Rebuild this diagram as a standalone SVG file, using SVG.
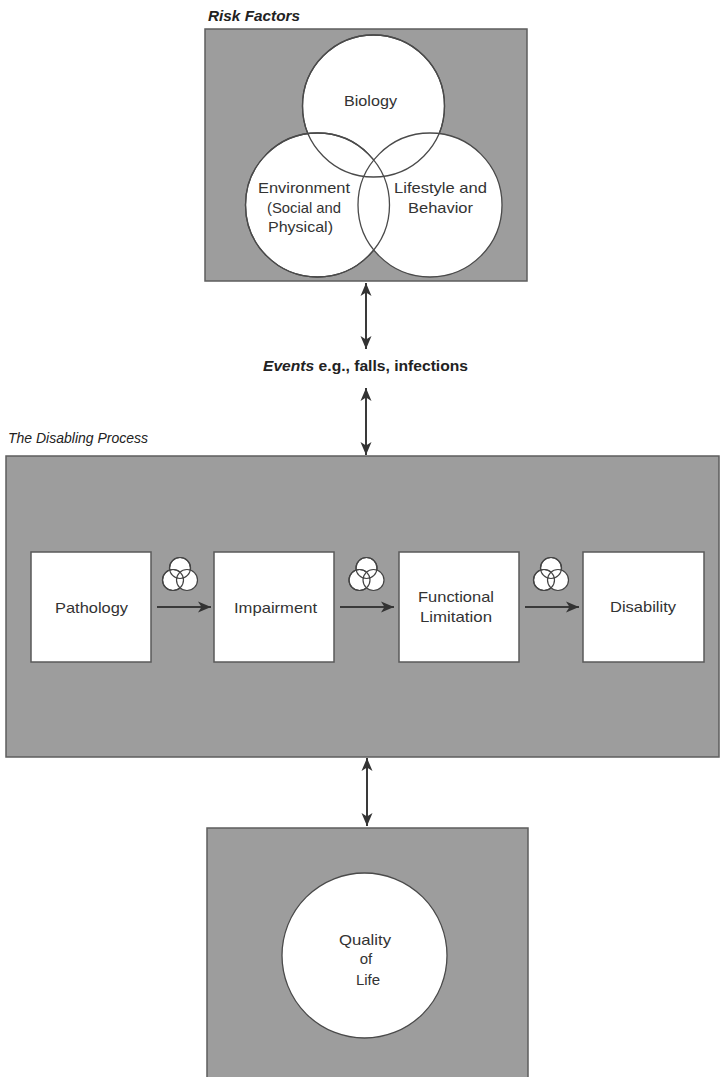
<svg xmlns="http://www.w3.org/2000/svg" width="723" height="1077" viewBox="0 0 723 1077">
<defs>
<style>
.panel{fill:#9d9d9d;stroke:#5e5e5e;stroke-width:1.5}
.wc{fill:#ffffff;stroke:#4a4a4a;stroke-width:1.3}
.box{fill:#ffffff;stroke:#5a5a5a;stroke-width:1.5}
.mini{fill:#ffffff;stroke:#444;stroke-width:1.2}
.mo{fill:none;stroke:#444;stroke-width:1.2}
.t{font-family:"Liberation Sans",Arial,sans-serif;font-size:15px;fill:#333;text-anchor:middle}
.title{font-family:"Liberation Sans",Arial,sans-serif;fill:#222}
.conn{stroke:#3a3a3a;stroke-width:2;fill:none}
.hconn{stroke:#3a3a3a;stroke-width:1.8;fill:none}
</style>
<marker id="ah" markerUnits="userSpaceOnUse" markerWidth="14" markerHeight="12" refX="13" refY="6" orient="auto-start-reverse">
<path d="M0,0.5 L13,6 L0,11.5 L3.5,6 Z" fill="#333"/>
</marker>
</defs>
<rect width="723" height="1077" fill="#ffffff"/>

<g id="risk-factors">
<text class="title" x="208" y="21" font-size="14" font-weight="bold" font-style="italic" textLength="92" lengthAdjust="spacingAndGlyphs">Risk Factors</text>
<rect class="panel" x="205" y="29" width="322" height="252"/>
<circle class="wc" cx="373.5" cy="106" r="71"/>
<circle class="wc" cx="317.5" cy="205" r="72"/>
<circle class="wc" cx="430" cy="205" r="72"/>
<circle cx="373.5" cy="106" r="71" fill="none" stroke="#4a4a4a" stroke-width="1.3"/>
<circle cx="317.5" cy="205" r="72" fill="none" stroke="#4a4a4a" stroke-width="1.3"/>
<text class="t" x="370.5" y="106" textLength="53" lengthAdjust="spacingAndGlyphs">Biology</text>
<text class="t" x="304" y="193" textLength="92" lengthAdjust="spacingAndGlyphs">Environment</text>
<text class="t" x="304" y="213" textLength="74" lengthAdjust="spacingAndGlyphs">(Social and</text>
<text class="t" x="300.5" y="232" textLength="65" lengthAdjust="spacingAndGlyphs">Physical)</text>
<text class="t" x="440.5" y="193" textLength="93" lengthAdjust="spacingAndGlyphs">Lifestyle and</text>
<text class="t" x="440.5" y="213" textLength="65" lengthAdjust="spacingAndGlyphs">Behavior</text>
</g>

<g id="events">
<text class="title" x="263" y="371" font-size="15" font-weight="bold" textLength="205" lengthAdjust="spacingAndGlyphs"><tspan font-style="italic">Events</tspan>  e.g., falls, infections</text>
</g>

<g id="disabling-process">
<text class="title" x="8" y="443" font-size="14" font-style="italic" fill="#333" textLength="140" lengthAdjust="spacingAndGlyphs">The Disabling Process</text>
<rect class="panel" x="6" y="456" width="713" height="301"/>
</g>

<g id="pathology">
<rect class="box" x="31" y="552" width="120" height="110"/>
<text class="t" x="91.5" y="613" textLength="73" lengthAdjust="spacingAndGlyphs">Pathology</text>
</g>
<g id="impairment">
<rect class="box" x="214" y="552" width="120" height="110"/>
<text class="t" x="275.5" y="613" textLength="83" lengthAdjust="spacingAndGlyphs">Impairment</text>
</g>
<g id="functional-limitation">
<rect class="box" x="399" y="552" width="120" height="110"/>
<text class="t" x="456" y="602" textLength="76" lengthAdjust="spacingAndGlyphs">Functional</text>
<text class="t" x="456" y="622" textLength="72" lengthAdjust="spacingAndGlyphs">Limitation</text>
</g>
<g id="disability">
<rect class="box" x="583" y="552" width="121" height="110"/>
<text class="t" x="643" y="612" textLength="66" lengthAdjust="spacingAndGlyphs">Disability</text>
</g>

<g id="mini-venn-1">
<circle class="mini" cx="180" cy="568" r="10.5"/>
<circle class="mini" cx="173" cy="580" r="10.5"/>
<circle class="mini" cx="187" cy="580" r="10.5"/>
<circle class="mo" cx="180" cy="568" r="10.5"/>
<circle class="mo" cx="173" cy="580" r="10.5"/>
</g>
<g id="mini-venn-2">
<circle class="mini" cx="366.5" cy="568" r="10.5"/>
<circle class="mini" cx="359.5" cy="580" r="10.5"/>
<circle class="mini" cx="373.5" cy="580" r="10.5"/>
<circle class="mo" cx="366.5" cy="568" r="10.5"/>
<circle class="mo" cx="359.5" cy="580" r="10.5"/>
</g>
<g id="mini-venn-3">
<circle class="mini" cx="551" cy="568" r="10.5"/>
<circle class="mini" cx="544" cy="580" r="10.5"/>
<circle class="mini" cx="558" cy="580" r="10.5"/>
<circle class="mo" cx="551" cy="568" r="10.5"/>
<circle class="mo" cx="544" cy="580" r="10.5"/>
</g>

<g id="quality-of-life">
<rect class="panel" x="207" y="828" width="321" height="260"/>
<circle class="wc" cx="364.5" cy="955.5" r="82.5"/>
<text class="t" x="365" y="945" textLength="52" lengthAdjust="spacingAndGlyphs">Quality</text>
<text class="t" x="366" y="964">of</text>
<text class="t" x="368" y="985">Life</text>
</g>

<g id="connectors">
<line class="conn" x1="366" y1="283" x2="366" y2="349" marker-start="url(#ah)" marker-end="url(#ah)"/>
<line class="conn" x1="366" y1="388" x2="366" y2="455" marker-start="url(#ah)" marker-end="url(#ah)"/>
<line class="conn" x1="367" y1="758" x2="367" y2="826" marker-start="url(#ah)" marker-end="url(#ah)"/>
<line class="hconn" x1="157" y1="607" x2="211" y2="607" marker-end="url(#ah)"/>
<line class="hconn" x1="340" y1="607" x2="394" y2="607" marker-end="url(#ah)"/>
<line class="hconn" x1="525" y1="607" x2="579" y2="607" marker-end="url(#ah)"/>
</g>
</svg>
